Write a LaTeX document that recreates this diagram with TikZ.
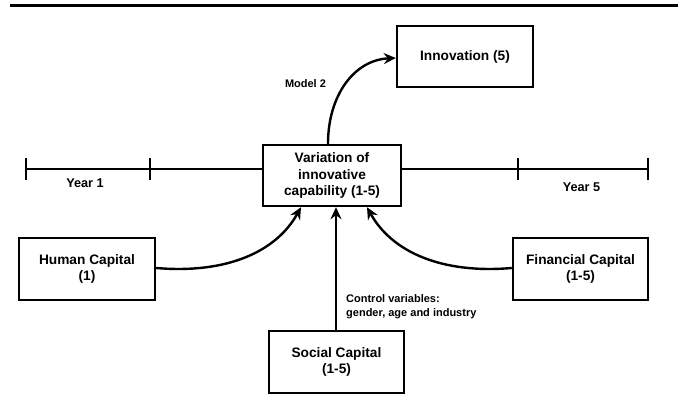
\documentclass[tikz,border=0pt]{standalone}
\usepackage{fontspec}
\setmainfont{Liberation Sans}
\usetikzlibrary{arrows.meta}
\begin{document}
\begin{tikzpicture}[x=1pt,y=1pt,
  box/.style={draw, line width=2.4pt, inner sep=0pt, align=center,
    font=\bfseries\fontsize{13.7}{16.5}\selectfont},
  arr/.style={line width=2.4pt, -{Stealth[length=12pt,width=11pt,inset=4pt]}},
  tl/.style={line width=2.4pt},
  lbl/.style={inner sep=0pt, align=left, font=\bfseries\fontsize{11}{14}\selectfont},
  yr/.style={inner sep=0pt, font=\bfseries\fontsize{12.7}{15}\selectfont}]
\useasboundingbox (0,0) rectangle (681,-414);
% top rule
\coordinate (r1) at (10,-5.5);
\coordinate (r2) at (678,-5.5);
\draw[line width=3pt] (r1) -- (r2);
% boxes
\node[box, minimum width=136pt, minimum height=61pt] (innov) at (465,-56.5) {Innovation (5)};
\node[box, minimum width=138pt, minimum height=61pt] (var) at (332,-175.5) {Variation of\\innovative\\capability (1-5)};
\node[box, minimum width=136pt, minimum height=62pt] (human) at (87,-269) {Human Capital\\(1)};
\node[box, minimum width=135pt, minimum height=62pt] (social) at (336.5,-362) {Social Capital\\(1-5)};
\node[box, minimum width=135pt, minimum height=62pt] (fin) at (580.5,-269) {Financial Capital\\(1-5)};
% timeline
\coordinate (t1) at (26,-169);
\coordinate (t2) at (150,-169);
\coordinate (t3) at (518,-169);
\coordinate (t4) at (648,-169);
\draw[tl] (t1) -- (t1 -| var.west);
\draw[tl] (var.east |- t4) -- (t4);
\foreach \t in {t1,t2,t3,t4}{
  \draw[tl] ([yshift=11pt]\t) -- ([yshift=-11pt]\t);
}
\node[yr] (y1) at (85,-183) {Year 1};
\node[yr] (y5) at (581.5,-187.5) {Year 5};
% arrows
\draw[arr] ([xshift=-4pt]var.north) .. controls +(0,48) and +(-42,-2) .. ([yshift=-1.5pt]innov.west);
\node[lbl] (m2) at (305.5,-83.5) {Model 2};
\draw[arr] ([yshift=1pt]human.east) .. controls +(70,-6) and +(-25,-45) .. ([xshift=-31pt]var.south);
\draw[arr] ([yshift=1pt]fin.west) .. controls +(-70,-6) and +(25,-45) .. ([xshift=35pt]var.south);
\draw[arr] ([xshift=-0.5pt]social.north) -- ([xshift=-0.5pt]social.north |- var.south);
\node[lbl, anchor=west] (cv) at (346,-307) {Control variables:\\gender, age and industry};
\end{tikzpicture}
\end{document}
